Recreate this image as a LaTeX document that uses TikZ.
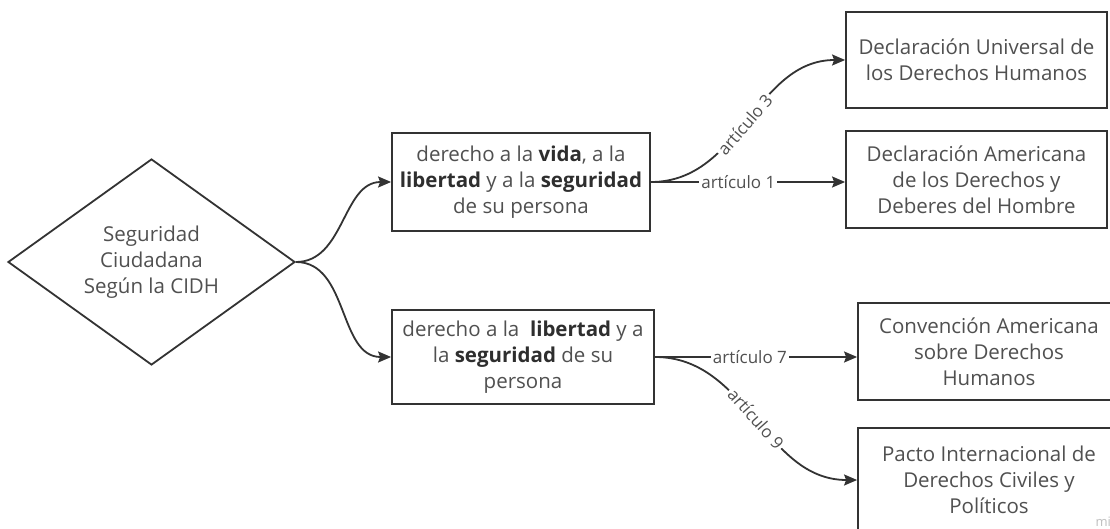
\documentclass[tikz,border=0pt]{standalone}
\usepackage{fontspec}
\setmainfont{Open Sans}
\usetikzlibrary{shapes.geometric,arrows.meta}
\definecolor{linec}{HTML}{333333}
\definecolor{textc}{HTML}{505050}
\definecolor{boldc}{HTML}{2E2E2E}
\newcommand{\bw}[1]{\textbf{\color{boldc}#1}}
\tikzset{
  box/.style={draw=linec, line width=1.8pt, rectangle, align=center, text=textc,
    font=\fontsize{20.5}{26}\selectfont, inner sep=0pt},
  conn/.style={draw=linec, line width=1.8pt, -{Stealth[length=13pt,width=11pt,inset=2pt]}},
  lab/.style={font=\fontsize{17}{20}\selectfont, text=textc, fill=white, inner sep=2pt},
}
\begin{document}
\begin{tikzpicture}[x=1pt,y=-1pt]
\useasboundingbox (0,0) rectangle (1110,529);
\clip (0,0) rectangle (1110,529);
\fill[white] (0,0) rectangle (1110,529);
% diamond
\node[diamond, draw=linec, line width=1.8pt, minimum width=287pt, minimum height=206pt, inner sep=0pt] (d) at (151.5,262) {};
\node[align=center, text=textc, font=\fontsize{20.5}{26}\selectfont] (dt) at (151.5,262) {Seguridad\\Ciudadana\\Según la CIDH};
% middle boxes
\node[box, minimum width=258pt, minimum height=98pt] (b1) at (521,182) {derecho a la \bw{vida}, a la\\\bw{libertad} y a la \bw{seguridad}\\de su persona};
\node[box, minimum width=262pt, minimum height=94pt] (b2) at (523,357) {derecho a la \ \bw{libertad} y a\\la \bw{seguridad} de su\\persona};
% right boxes
\node[box, minimum width=261pt, minimum height=96pt] (r1) at (976.5,60) {Declaración Universal de\\los Derechos Humanos};
\node[box, minimum width=261pt, minimum height=97pt] (r2) at (976.5,179.5) {Declaración Americana\\de los Derechos y\\Deberes del Hombre};
\node[box, minimum width=262pt, minimum height=97pt] (r3) at (989,351.5) {Convención Americana\\sobre Derechos\\Humanos};
\node[box, minimum width=262pt, minimum height=104pt] (r4) at (989,480) {Pacto Internacional de\\Derechos Civiles y\\Políticos};
% connectors
\draw[conn] (d.east) to[out=0,in=180] (b1.west);
\draw[conn] (d.east) to[out=0,in=180] (b2.west);
\draw[conn] (b1.east) to[out=0,in=180] node[lab, sloped, pos=0.48] {artículo 3} (r1.west);
\draw[conn] (b1.east) -- node[lab, pos=0.45] {artículo 1} (b1.east -| r2.west);
\draw[conn] (b2.east) -- node[lab, pos=0.47] {artículo 7} (b2.east -| r3.west);
\draw[conn] (b2.east) to[out=0,in=180] node[lab, sloped, pos=0.5] {artículo 9} (r4.west);
% watermark
\node[text=black!25, font=\fontsize{13}{15}\selectfont, anchor=base west] (wm) at (1092,526) {mi};
\end{tikzpicture}
\end{document}
